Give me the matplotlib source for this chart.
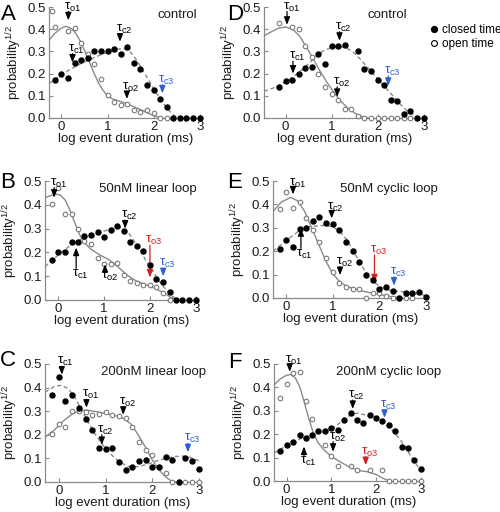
import numpy as np
import matplotlib
matplotlib.use("Agg")
import matplotlib.pyplot as plt
from matplotlib.lines import Line2D

plt.rcParams["font.family"] = ["Liberation Sans", "DejaVu Sans"]
plt.rcParams["mathtext.fontset"] = "custom"
plt.rcParams["mathtext.rm"] = "Liberation Sans"
plt.rcParams["mathtext.default"] = "regular"

nan = np.nan
bins = [-0.14, 0.0, 0.14, 0.29, 0.43, 0.57, 0.71, 0.86, 1.0, 1.14, 1.29, 1.43,
        1.57, 1.71, 1.86, 2.0, 2.14, 2.29, 2.43, 2.57, 2.71, 2.86, 3.0]

# ---- panel A: control ----
a_closed = [0.17, 0.20, 0.18, 0.25, 0.26, 0.27, 0.30, 0.30, 0.30, 0.31, 0.29, 0.32,
            0.25, 0.22, 0.15, 0.125, 0.085, 0.05, 0, 0, 0, 0, 0]
a_open_x = [-0.21, -0.14, 0.14, 0.29, 0.43, 0.57, 0.71, 0.86, 1.0, 1.14, 1.29, 1.43,
            1.57, 1.71, 1.86, 2.0, 2.14, 2.29]
a_open = [0.48, 0.41, 0.39, 0.405, 0.34, 0.29, 0.245, 0.175, 0.105, 0.07, 0.06, 0.063,
          0.035, 0.027, 0.034, 0.022, 0.0, 0.0]
a_fit_open_x = [-0.27, -0.15, 0.0, 0.1, 0.2, 0.3, 0.4, 0.5, 0.6, 0.7, 0.8, 0.9, 1.0,
                1.1, 1.2, 1.4, 1.6, 1.8, 1.95, 2.1, 2.2]
a_fit_open = [0.35, 0.38, 0.405, 0.413, 0.405, 0.385, 0.35, 0.305, 0.255, 0.205, 0.16,
              0.125, 0.1, 0.087, 0.08, 0.066, 0.048, 0.03, 0.015, 0.004, 0.0]
a_fit_closed_x = [-0.27, 0.0, 0.2, 0.4, 0.6, 0.8, 1.0, 1.2, 1.35, 1.45, 1.55, 1.65, 1.75,
                  1.85, 1.95, 2.05, 2.15, 2.25, 2.35, 2.45, 2.55]
a_fit_closed = [0.155, 0.195, 0.22, 0.243, 0.262, 0.28, 0.297, 0.31, 0.313, 0.305, 0.285,
                0.255, 0.22, 0.185, 0.15, 0.115, 0.085, 0.055, 0.03, 0.01, 0.0]

# ---- panel B: 50nM linear loop ----
b_closed = [0.17, 0.20, 0.20, 0.245, 0.245, 0.27, 0.275, 0.285, 0.265, 0.295, 0.31, 0.29,
            0.245, 0.225, 0.205, 0.145, 0.09, 0.075, 0.035, 0, 0, 0, 0]
b_open = [0.405, 0.47, 0.36, 0.36, 0.30, 0.25, 0.235, 0.175, 0.15, 0.15, 0.155, 0.105,
          0.08, 0.07, 0.065, 0.065, 0.055, 0.03, 0.0, nan, nan, nan, nan]
b_fit_open_x = [-0.29, -0.15, -0.05, 0.05, 0.15, 0.25, 0.35, 0.45, 0.55, 0.7, 0.9, 1.1,
                1.3, 1.5, 1.7, 1.9, 2.1, 2.3, 2.45, 2.6]
b_fit_open = [0.43, 0.44, 0.445, 0.44, 0.42, 0.38, 0.33, 0.28, 0.245, 0.215, 0.19, 0.17,
              0.14, 0.105, 0.08, 0.065, 0.05, 0.03, 0.012, 0.0]
b_fit_closed_x = [-0.29, 0.0, 0.3, 0.6, 0.9, 1.2, 1.35, 1.5, 1.6, 1.7, 1.8, 1.9, 2.0,
                  2.1, 2.2, 2.3, 2.4, 2.5, 2.6]
b_fit_closed = [0.14, 0.19, 0.235, 0.265, 0.285, 0.30, 0.305, 0.29, 0.265, 0.235, 0.205,
                0.17, 0.14, 0.11, 0.08, 0.055, 0.035, 0.015, 0.0]

# ---- panel C: 200nM linear loop ----
c_closed = [0.37, 0.445, 0.345, 0.37, 0.315, 0.265, 0.22, 0.145, 0.14, 0.145, 0.085, 0.05,
            0.065, 0.09, 0.095, 0.065, 0.065, 0.105, 0.095, 0.0, 0.10, 0.09, 0.055]
c_open = [0.205, 0.245, 0.235, 0.30, 0.30, 0.295, 0.285, 0.29, 0.295, 0.285, 0.28, 0.27,
          0.235, 0.17, 0.135, 0.115, 0.065, 0.04, 0.0, 0.0, 0.0, 0.0, 0.0]
c_fit_open_x = [-0.3, -0.1, 0.1, 0.3, 0.45, 0.6, 0.8, 1.0, 1.2, 1.4, 1.55, 1.7, 1.85, 2.0,
                2.1, 2.2, 2.3, 2.4, 2.5]
c_fit_open = [0.19, 0.22, 0.26, 0.29, 0.302, 0.305, 0.298, 0.29, 0.282, 0.268, 0.245,
              0.2, 0.15, 0.095, 0.065, 0.04, 0.02, 0.006, 0.0]
c_fit_closed_x = [-0.3, -0.1, 0.05, 0.2, 0.35, 0.5, 0.65, 0.8, 0.95, 1.1, 1.3, 1.5, 1.7,
                  1.9, 2.1, 2.3, 2.5, 2.65, 2.8, 3.0]
c_fit_closed = [0.38, 0.405, 0.41, 0.395, 0.355, 0.3, 0.245, 0.195, 0.155, 0.12, 0.085,
                0.065, 0.065, 0.075, 0.09, 0.1, 0.108, 0.11, 0.105, 0.09]

# ---- panel D: control ----
d_closed = [0.14, 0.165, 0.17, 0.20, 0.225, 0.23, 0.29, 0.245, 0.325, 0.325, 0.33, nan,
            0.30, 0.22, 0.21, 0.17, 0.15, 0.08, 0.075, 0.02, 0.03, 0.0, 0.0]
d_open = [0.43, nan, 0.41, 0.40, 0.325, 0.275, 0.20, 0.14, 0.11, 0.08, 0.04, 0.04, 0.01,
          0, 0, 0, 0, 0, 0, 0, 0, nan, nan]
d_fit_open_x = [-0.47, -0.3, -0.15, 0.0, 0.15, 0.3, 0.45, 0.6, 0.75, 0.9, 1.05, 1.2, 1.35,
                1.5, 1.65, 1.8]
d_fit_open = [0.37, 0.39, 0.405, 0.41, 0.40, 0.37, 0.32, 0.265, 0.21, 0.16, 0.115, 0.075,
              0.045, 0.022, 0.006, 0.0]
d_fit_closed_x = [-0.47, -0.2, 0.1, 0.4, 0.6, 0.8, 1.0, 1.15, 1.3, 1.45, 1.6, 1.75, 1.9,
                  2.05, 2.2, 2.35, 2.5, 2.65, 2.8, 2.95]
d_fit_closed = [0.12, 0.14, 0.175, 0.225, 0.265, 0.3, 0.318, 0.322, 0.318, 0.3, 0.27,
                0.235, 0.2, 0.165, 0.13, 0.095, 0.06, 0.03, 0.01, 0.0]

# ---- panel E: 50nM cyclic loop ----
e_closed = [0.21, 0.25, 0.22, 0.295, 0.30, 0.33, 0.345, 0.32, 0.315, 0.29, 0.24, 0.20,
            0.155, 0.10, 0.075, 0.04, 0.045, 0.03, 0.0, 0.02, 0.02, 0.025, 0.005]
e_open = [0.38, 0.455, 0.385, 0.41, 0.34, 0.29, 0.24, 0.17, 0.11, 0.065, 0.047, 0.037,
          0.037, 0.0, 0.02, 0.02, 0.01, 0.0, 0.0, 0.0, 0.0, nan, nan]
e_fit_open_x = [-0.28, -0.1, 0.1, 0.25, 0.4, 0.55, 0.7, 0.85, 1.0, 1.15, 1.3, 1.5, 1.7,
                2.0, 2.3, 2.5]
e_fit_open = [0.37, 0.41, 0.43, 0.415, 0.37, 0.3, 0.23, 0.16, 0.105, 0.07, 0.05, 0.037,
              0.027, 0.015, 0.005, 0.0]
e_fit_closed_x = [-0.28, 0.0, 0.3, 0.5, 0.8, 1.0, 1.15, 1.3, 1.45, 1.6, 1.75, 1.9, 2.1,
                  2.3, 2.6, 2.9, 3.0]
e_fit_closed = [0.20, 0.245, 0.29, 0.305, 0.31, 0.305, 0.285, 0.25, 0.2, 0.145, 0.1, 0.065,
                0.04, 0.03, 0.025, 0.015, 0.01]

# ---- panel F: 200nM cyclic loop ----
f_closed = [0.13, 0.155, 0.165, 0.195, 0.185, 0.195, 0.215, 0.215, 0.225, 0.22, 0.26, 0.29,
            0.26, 0.25, 0.28, 0.27, 0.255, 0.24, 0.215, 0.145, 0.14, 0.09, 0.05]
f_open = [0.355, 0.415, 0.46, 0.465, 0.34, 0.265, nan, 0.153, 0.107, 0.063, nan, 0.065,
          0.046, nan, 0.046, nan, 0.049, 0, 0, 0, 0, 0, 0]
f_fit_open_x = [-0.28, -0.15, 0.0, 0.1, 0.2, 0.3, 0.4, 0.5, 0.6, 0.7, 0.85, 1.0, 1.2, 1.4,
                1.6, 1.8, 2.0, 2.15, 2.3]
f_fit_open = [0.41, 0.435, 0.452, 0.455, 0.44, 0.4, 0.335, 0.265, 0.205, 0.165, 0.13,
              0.105, 0.082, 0.06, 0.045, 0.04, 0.028, 0.012, 0.0]
f_fit_closed_x = [-0.28, 0.0, 0.3, 0.6, 0.9, 1.1, 1.3, 1.45, 1.6, 1.8, 2.0, 2.2, 2.4, 2.55,
                  2.7, 2.85, 3.0]
f_fit_closed = [0.12, 0.15, 0.18, 0.2, 0.215, 0.235, 0.265, 0.285, 0.29, 0.28, 0.265, 0.245,
                0.21, 0.175, 0.13, 0.085, 0.045]

# tau markers: (label, x, arrow tail y, arrow tip y, colour)
a_taus = [("τ$_{o1}$", 0.15, 0.48, 0.44, "k"), ("τ$_{c1}$", 0.24, 0.29, 0.25, "k"),
          ("τ$_{c2}$", 1.27, 0.38, 0.344, "k"), ("τ$_{o2}$", 1.42, 0.118, 0.086, "k"),
          ("τ$_{c3}$", 2.19, 0.149, 0.111, "#2f5fd0")]
b_taus = [("τ$_{o1}$", -0.09, 0.472, 0.43, "k"), ("τ$_{c2}$", 1.46, 0.336, 0.30, "k"),
          ("τ$_{c1}$", 0.39, 0.133, 0.22, "k"), ("τ$_{o2}$", 1.02, 0.122, 0.15, "k"),
          ("τ$_{o3}$", 2.0, 0.23, 0.095, "#d42020"), ("τ$_{c3}$", 2.29, 0.133, 0.1, "#2f5fd0")]
c_taus = [("τ$_{c1}$", 0.06, 0.49, 0.455, "k"), ("τ$_{o1}$", 0.59, 0.35, 0.315, "k"),
          ("τ$_{o2}$", 1.38, 0.32, 0.285, "k"), ("τ$_{c2}$", 0.92, 0.2, 0.157, "k"),
          ("τ$_{c3}$", 2.77, 0.165, 0.126, "#2f5fd0")]
d_taus = [("τ$_{o1}$", 0.03, 0.48, 0.42, "k"), ("τ$_{c1}$", 0.16, 0.255, 0.2, "k"),
          ("τ$_{c2}$", 1.17, 0.389, 0.348, "k"), ("τ$_{o2}$", 1.12, 0.14, 0.095, "k"),
          ("τ$_{c3}$", 2.23, 0.19, 0.145, "#2f5fd0")]
e_taus = [("τ$_{o1}$", 0.15, 0.47, 0.443, "k"), ("τ$_{c1}$", 0.32, 0.212, 0.298, "k"),
          ("τ$_{c2}$", 0.98, 0.369, 0.34, "k"), ("τ$_{o2}$", 1.16, 0.134, 0.098, "k"),
          ("τ$_{o3}$", 1.9, 0.184, 0.067, "#d42020"), ("τ$_{c3}$", 2.32, 0.091, 0.053, "#2f5fd0")]
f_taus = [("τ$_{o1}$", 0.07, 0.495, 0.467, "k"), ("τ$_{c1}$", 0.39, 0.11, 0.147, "k"),
          ("τ$_{c2}$", 1.48, 0.346, 0.308, "k"), ("τ$_{o2}$", 1.04, 0.168, 0.125, "k"),
          ("τ$_{o3}$", 1.77, 0.104, 0.068, "#d42020"), ("τ$_{c3}$", 2.19, 0.303, 0.27, "#2f5fd0")]

fig = plt.figure(figsize=(5, 5.12), dpi=100)


def box(l, r, b, t):
    return fig.add_axes([l / 500, 1 - b / 512, (r - l) / 500, (b - t) / 512])


def tau(ax, label, x, tail, tip, col):
    ax.annotate("", xy=(x, tip), xytext=(x, tail), annotation_clip=False,
                arrowprops=dict(arrowstyle="-|>,head_length=0.45,head_width=0.18",
                                color=col, lw=0.9, shrinkA=0, shrinkB=0))
    if tail > tip:
        ax.annotate(label, xy=(x, tail), xytext=(-3.2, -1.5), textcoords="offset points",
                    ha="left", va="bottom", color=col, fontsize=9.5, annotation_clip=False)
    else:
        ax.annotate(label, xy=(x, tail), xytext=(-3.2, 0.5), textcoords="offset points",
                    ha="left", va="top", color=col, fontsize=9.5, annotation_clip=False)


def panel(ax, xlim, closed, open_x, open_y, fo_x, fo, fc_x, fc, taus, title, tx, letter, lx, ly):
    ax.plot(fo_x, fo, color="#8a8a8a", lw=1.0, zorder=2)
    ax.plot(fc_x, fc, color="#8a8a8a", lw=1.0, ls=(0, (3, 2)), zorder=2)
    ax.plot(open_x, open_y, "o", ms=3.3, mfc="white", mec="#7a7a7a", mew=0.8,
            zorder=3, clip_on=False)
    ax.plot(bins, closed, "o", ms=3.6, color="black", zorder=4, clip_on=False)
    for t in taus:
        tau(ax, *t)
    ax.set_xlim(*xlim)
    ax.set_ylim(0, 0.5)
    ax.set_xticks([0, 1, 2, 3])
    ax.set_yticks([0, 0.1, 0.2, 0.3, 0.4, 0.5])
    ax.set_yticklabels(["0.0", "0.1", "0.2", "0.3", "0.4", "0.5"])
    for s in ["top", "right"]:
        ax.spines[s].set_visible(False)
    for s in ["left", "bottom"]:
        ax.spines[s].set_color("#8a8a8a")
        ax.spines[s].set_linewidth(0.9)
    ax.tick_params(direction="in", length=3, width=0.8, color="#8a8a8a",
                   labelsize=9.5, labelcolor="#1a1a1a", pad=2)
    ax.set_xlabel("log event duration (ms)", fontsize=9.5, labelpad=0, color="#1a1a1a")
    ax.set_ylabel("probability$^{1/2}$", fontsize=9.5, labelpad=3, color="#1a1a1a")
    ax.text(tx, 0.465, title, fontsize=9.5, ha="center", va="center", color="#1a1a1a")
    fig.text(lx / 500, 1 - ly / 512, letter, fontsize=16, ha="center", va="center")


ax_a = box(49, 202, 118, 7)
panel(ax_a, (-0.27, 3.05), a_closed, a_open_x, a_open, a_fit_open_x, a_fit_open,
      a_fit_closed_x, a_fit_closed, a_taus, "control", 2.51, "A", 8, 14)
ax_b = box(45, 198, 300, 181)
panel(ax_b, (-0.29, 3.05), b_closed, bins, b_open, b_fit_open_x, b_fit_open,
      b_fit_closed_x, b_fit_closed, b_taus, "50nM linear loop", 1.96, "B", 8, 182)
ax_c = box(45, 201, 482, 364)
panel(ax_c, (-0.3, 3.05), c_closed, bins, c_open, c_fit_open_x, c_fit_open,
      c_fit_closed_x, c_fit_closed, c_taus, "200nM linear loop", 2.02, "C", 8, 360)
ax_d = box(264, 426, 118, 7)
panel(ax_d, (-0.47, 3.05), d_closed, bins, d_open, d_fit_open_x, d_fit_open,
      d_fit_closed_x, d_fit_closed, d_taus, "control", 2.2, "D", 235, 14)
ax_e = box(273, 428, 298, 181)
panel(ax_e, (-0.28, 3.05), e_closed, bins, e_open, e_fit_open_x, e_fit_open,
      e_fit_closed_x, e_fit_closed, e_taus, "50nM cyclic loop", 2.2, "E", 235, 182)
ax_f = box(274, 423, 481, 364)
panel(ax_f, (-0.28, 3.05), f_closed, bins, f_open, f_fit_open_x, f_fit_open,
      f_fit_closed_x, f_fit_closed, f_taus, "200nM cyclic loop", 2.28, "F", 235, 362)

handles = [Line2D([], [], ls="none", marker="o", ms=4.2, color="black"),
           Line2D([], [], ls="none", marker="o", ms=4.2, mfc="white", mec="black", mew=0.8)]
fig.legend(handles, ["closed time", "open time"], loc="upper left",
           bbox_to_anchor=(429 / 500, 1 - 24 / 512), frameon=False, fontsize=8.5,
           handlelength=0.8, handletextpad=0.3, labelspacing=0.15, borderpad=0,
           borderaxespad=0)

fig.savefig("out.png", dpi=100)
